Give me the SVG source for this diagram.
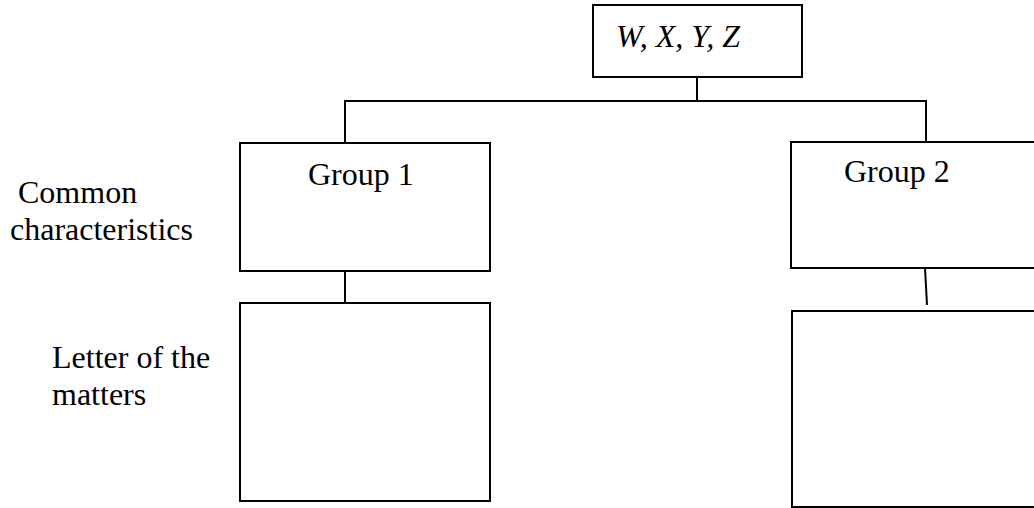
<svg xmlns="http://www.w3.org/2000/svg" width="1034" height="508" viewBox="0 0 1034 508">
<style>
.box{fill:#fff;stroke:#000;stroke-width:2}
.ln{fill:none;stroke:#000;stroke-width:2}
text{font-family:"Liberation Serif","Times New Roman",serif;font-size:32px;fill:#000}
.it{font-style:italic}
</style>
<rect width="1034" height="508" fill="#fff"/>
<g id="connectors">
<line class="ln" x1="697" y1="77" x2="697" y2="101"/>
<polyline class="ln" points="345,143 345,101 926,101 926,142"/>
<line class="ln" x1="345" y1="271" x2="345" y2="303"/>
<line class="ln" x1="925" y1="268" x2="927" y2="305"/>
</g>
<g id="node-top">
<rect class="box" x="593" y="5" width="209" height="72"/>
<text class="it" x="616" y="47">W, X, Y, Z</text>
</g>
<g id="node-group1">
<rect class="box" x="240" y="143" width="250" height="128"/>
<text x="308" y="185">Group 1</text>
</g>
<g id="node-group2">
<rect class="box" x="791" y="142" width="250" height="126"/>
<text x="844" y="182">Group 2</text>
</g>
<g id="node-matters1">
<rect class="box" x="240" y="303" width="250" height="198"/>
</g>
<g id="node-matters2">
<rect class="box" x="792" y="311" width="260" height="196"/>
</g>
<g id="label-common">
<text x="18" y="203">Common</text>
<text x="10" y="240">characteristics</text>
</g>
<g id="label-letter">
<text x="52" y="368">Letter of the</text>
<text x="52" y="405">matters</text>
</g>
</svg>
